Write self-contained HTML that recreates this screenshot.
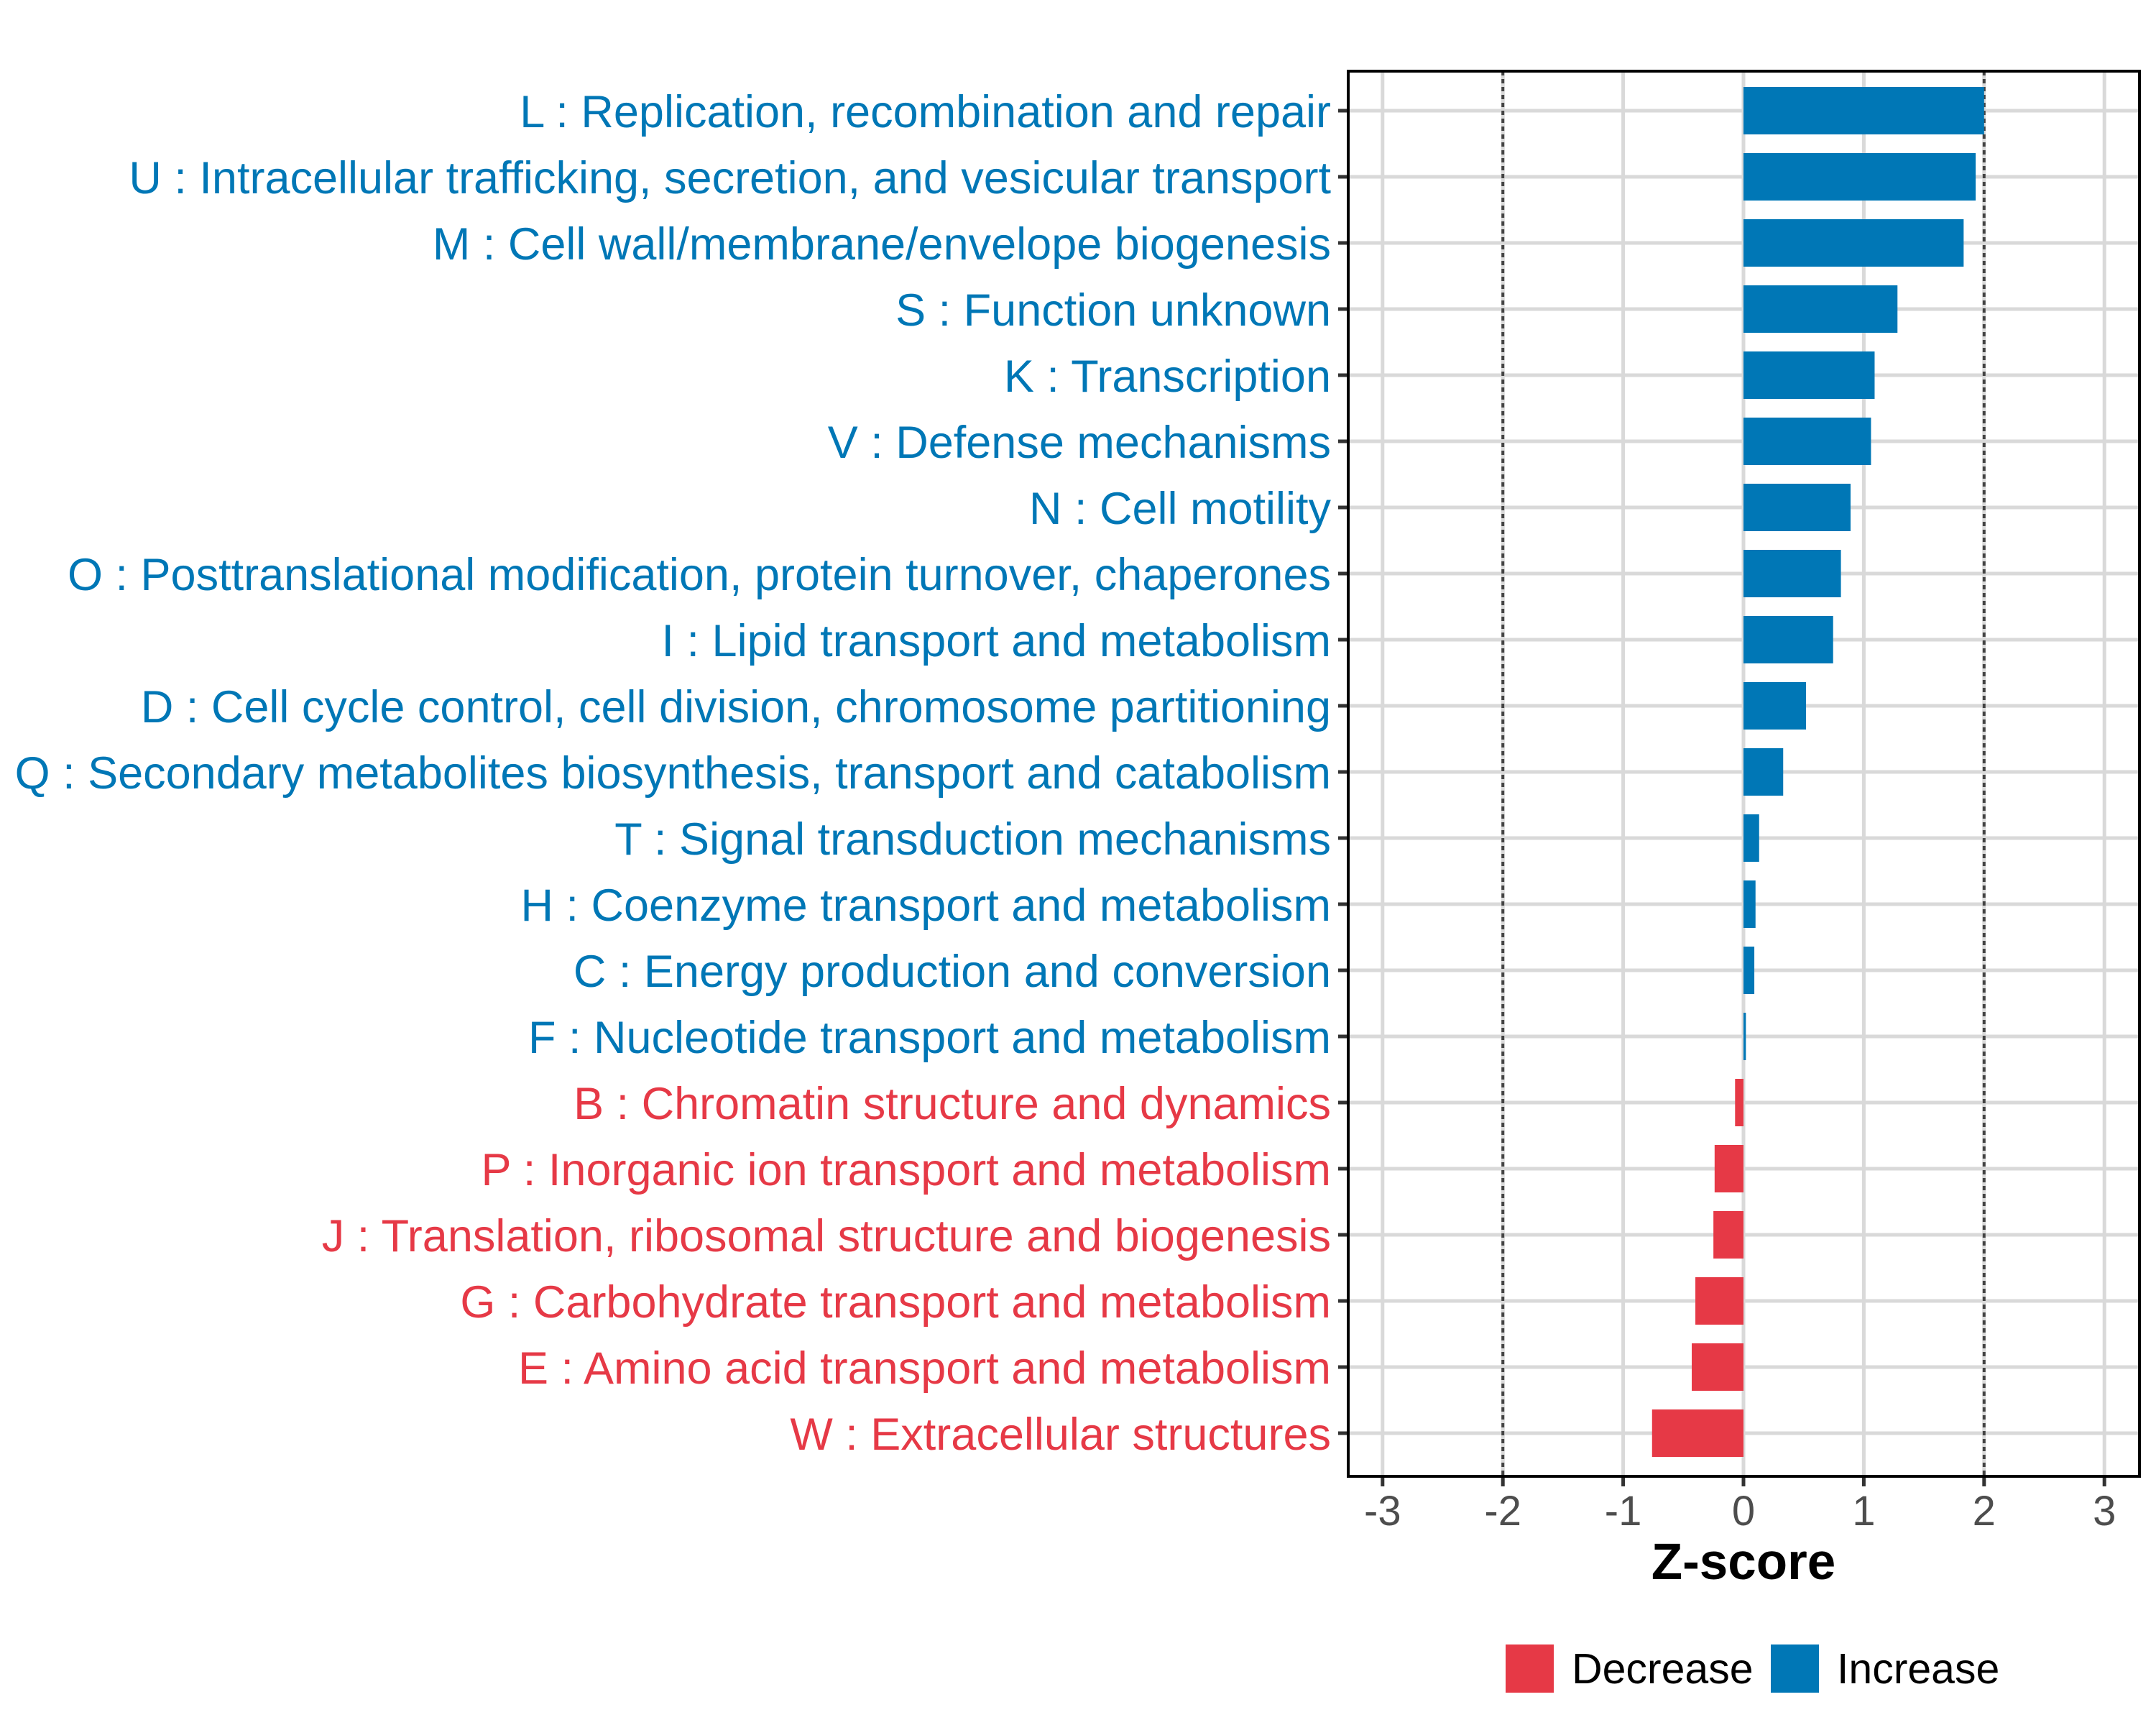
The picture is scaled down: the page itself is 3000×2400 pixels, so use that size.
<!DOCTYPE html>
<html><head><meta charset="utf-8"><style>
html,body{margin:0;padding:0;background:#fff;}
svg{display:block;font-family:"Liberation Sans",Arial,sans-serif;}
</style></head><body>
<svg id="chart" width="3000" height="2400" viewBox="0 0 3000 2400" xmlns="http://www.w3.org/2000/svg">
<rect width="3000" height="2400" fill="#fff"/>
<g id="grid"></g>
<g id="bars"></g>
<g id="ylabels"></g>
<g id="xaxis"></g>
<rect x="1876" y="99" width="1101" height="1955" fill="none" stroke="#000" stroke-width="4"/>
<text x="2426" y="2197" text-anchor="middle" font-size="71" font-weight="bold" fill="#000">Z-score</text>
<g>
<rect x="2095" y="2288" width="67" height="67" fill="#e63946"/>
<text x="2187" y="2342" font-size="59" fill="#000">Decrease</text>
<rect x="2464" y="2288" width="67" height="67" fill="#0077b6"/>
<text x="2556" y="2342" font-size="59" fill="#000">Increase</text>
</g>
</svg>
<script>
var categories = [
"L : Replication, recombination and repair",
"U : Intracellular trafficking, secretion, and vesicular transport",
"M : Cell wall/membrane/envelope biogenesis",
"S : Function unknown",
"K : Transcription",
"V : Defense mechanisms",
"N : Cell motility",
"O : Posttranslational modification, protein turnover, chaperones",
"I : Lipid transport and metabolism",
"D : Cell cycle control, cell division, chromosome partitioning",
"Q : Secondary metabolites biosynthesis, transport and catabolism",
"T : Signal transduction mechanisms",
"H : Coenzyme transport and metabolism",
"C : Energy production and conversion",
"F : Nucleotide transport and metabolism",
"B : Chromatin structure and dynamics",
"P : Inorganic ion transport and metabolism",
"J : Translation, ribosomal structure and biogenesis",
"G : Carbohydrate transport and metabolism",
"E : Amino acid transport and metabolism",
"W : Extracellular structures"];
var zscores = [2.0,1.93,1.83,1.28,1.09,1.06,0.89,0.81,0.745,0.52,0.33,0.13,0.1,0.09,0.02,-0.07,-0.24,-0.25,-0.4,-0.43,-0.76];
var xTicks = [-3,-2,-1,0,1,2,3];
var thresholds = [-2,2];

var SVGNS="http://www.w3.org/2000/svg";
var PL=1876,PR=2977,PT=99,PB=2054;
var X0=2426, UNIT=167.4;
function xs(v){return X0+v*UNIT;}
var STEP=92, FIRST=154, BH=66;
function ys(i){return FIRST+i*STEP;}
function el(tag,parent){var e=document.createElementNS(SVGNS,tag);parent.appendChild(e);return e;}
var gGrid=document.getElementById('grid'),gBars=document.getElementById('bars'),gY=document.getElementById('ylabels'),gX=document.getElementById('xaxis');
var i,e,v;
for(i=0;i<xTicks.length;i++){
  e=el('line',gGrid);
  e.setAttribute('x1',xs(xTicks[i]));e.setAttribute('x2',xs(xTicks[i]));
  e.setAttribute('y1',PT);e.setAttribute('y2',PB);
  e.setAttribute('stroke','#d9d9d9');e.setAttribute('stroke-width','5');
  
  
}
for(i=0;i<categories.length;i++){
  e=el('line',gGrid);
  e.setAttribute('x1',PL);e.setAttribute('x2',PR);
  e.setAttribute('y1',ys(i));e.setAttribute('y2',ys(i));
  e.setAttribute('stroke','#d9d9d9');e.setAttribute('stroke-width','5');
  
  
}
for(i=0;i<thresholds.length;i++){
  e=el('line',gGrid);
  e.setAttribute('x1',xs(thresholds[i]));e.setAttribute('x2',xs(thresholds[i]));
  e.setAttribute('y1',PT);e.setAttribute('y2',PB);
  e.setAttribute('stroke','#444');e.setAttribute('stroke-width','4');e.setAttribute('stroke-dasharray','6 5');
  
  
}
for(i=0;i<zscores.length;i++){
  v=zscores[i];
  var bx=Math.min(xs(0),xs(v)), bw=Math.abs(xs(v)-xs(0));
  var col=v>=0?'#0077b6':'#e63946';
  e=el('rect',gBars);
  e.setAttribute('x',bx);e.setAttribute('y',ys(i)-BH/2);
  e.setAttribute('width',Math.max(bw,2));e.setAttribute('height',BH);
  e.setAttribute('fill',col);
  
  
  e=el('text',gY);
  e.setAttribute('x','1852');e.setAttribute('y',ys(i)+23);
  e.setAttribute('text-anchor','end');e.setAttribute('font-size','63');
  e.setAttribute('fill',col);
  e.textContent=categories[i];
  
  
  e=el('line',gX);
  e.setAttribute('x1','1862');e.setAttribute('x2',PL);
  e.setAttribute('y1',ys(i));e.setAttribute('y2',ys(i));
  e.setAttribute('stroke','#333');e.setAttribute('stroke-width','5');
  
  
}
for(i=0;i<xTicks.length;i++){
  e=el('line',gX);
  e.setAttribute('x1',xs(xTicks[i]));e.setAttribute('x2',xs(xTicks[i]));
  e.setAttribute('y1',PB);e.setAttribute('y2',PB+14);
  e.setAttribute('stroke','#333');e.setAttribute('stroke-width','5');
  
  
  e=el('text',gX);
  e.setAttribute('x',xs(xTicks[i]));e.setAttribute('y','2122');
  e.setAttribute('text-anchor','middle');e.setAttribute('font-size','58');
  e.setAttribute('fill','#4d4d4d');
  e.textContent=String(xTicks[i]);
  
  
}
</script>
</body></html>
